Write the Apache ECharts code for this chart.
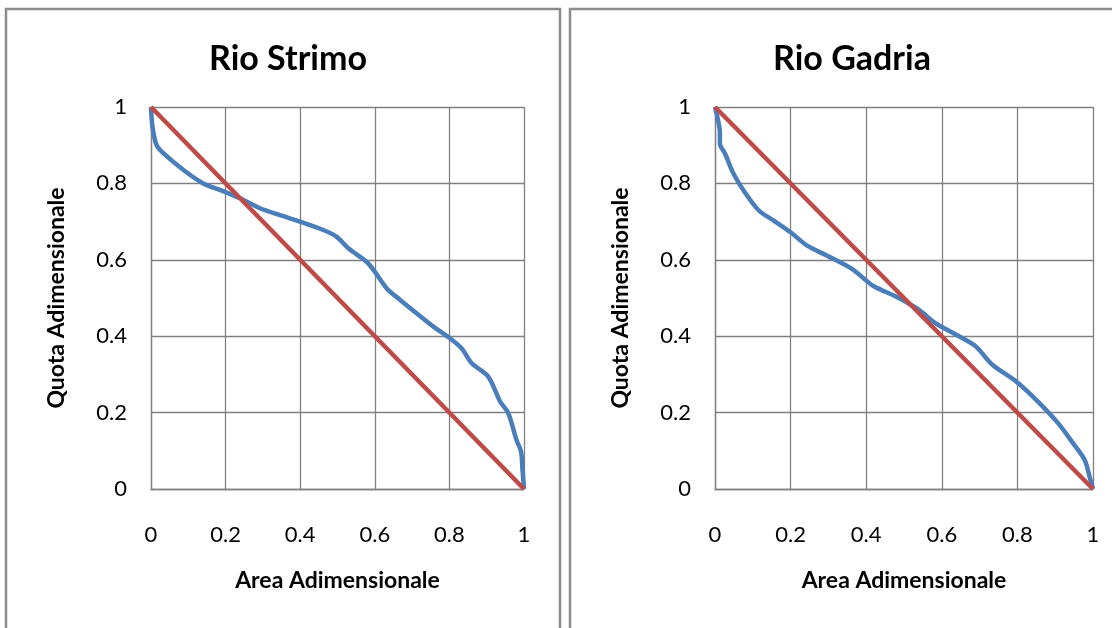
<!DOCTYPE html>
<html>
<head>
<meta charset="utf-8">
<script src="https://cdn.jsdelivr.net/npm/echarts@6/dist/echarts.min.js"></script>
<style>
  html, body { margin: 0; padding: 0; background: #fff; }
  #chart { width: 1112px; height: 628px; }
</style>
</head>
<body>
<div id="chart"></div>
<script>
// curve ipsografica adimensionale
const titles = ['Rio Strimo', 'Rio Gadria']
const xName = 'Area Adimensionale'
const yName = 'Quota Adimensionale'
const ticks = [0, 0.2, 0.4, 0.6, 0.8, 1]

const strimo = [
  [0, 1], [0.004, 0.948], [0.015, 0.90], [0.033, 0.879], [0.087, 0.835],
  [0.14, 0.80], [0.198, 0.778], [0.239, 0.761], [0.292, 0.735], [0.346, 0.717],
  [0.399, 0.70], [0.462, 0.678], [0.498, 0.66], [0.529, 0.63], [0.578, 0.595],
  [0.60, 0.569], [0.632, 0.525], [0.668, 0.495], [0.712, 0.46], [0.757, 0.425],
  [0.802, 0.394], [0.833, 0.368], [0.86, 0.329], [0.904, 0.294], [0.936, 0.229],
  [0.958, 0.198], [0.98, 0.128], [0.992, 0.098], [0.996, 0.05], [1, 0]
]
const gadria = [
  [0, 1], [0.009, 0.961], [0.013, 0.934], [0.013, 0.904], [0.027, 0.877],
  [0.049, 0.825], [0.076, 0.781], [0.116, 0.729], [0.156, 0.702], [0.20, 0.672],
  [0.244, 0.637], [0.298, 0.61], [0.364, 0.575], [0.418, 0.532], [0.476, 0.505],
  [0.538, 0.47], [0.582, 0.435], [0.636, 0.405], [0.689, 0.374], [0.733, 0.326],
  [0.796, 0.282], [0.849, 0.234], [0.907, 0.173], [0.947, 0.12], [0.978, 0.076],
  [0.991, 0.032], [1, 0]
]
const diagonal = [[0, 1], [1, 0]]

const FONT = 'Lato, "Open Sans", sans-serif'
const GRID_GRAY = '#808080'

const grids = [
  { left: 151, top: 107, width: 373, height: 382 },
  { left: 715, top: 107, width: 378, height: 382 }
]
const panels = [{ x: 6, w: 554, cx: 283 }, { x: 570, w: 560, cx: 847 }]

function axisBase(i) {
  return {
    type: 'value', min: 0, max: 1, interval: 0.2, gridIndex: i,
    nameLocation: 'middle',
    nameTextStyle: { fontFamily: FONT, fontWeight: 'bold', fontSize: 23, color: '#000' },
    axisLine: { show: true, lineStyle: { color: GRID_GRAY, width: 1.3 } },
    axisTick: { show: false },
    splitLine: { show: true, lineStyle: { color: GRID_GRAY, width: 1.3 } },
    axisLabel: {
      fontFamily: FONT, fontSize: 22, color: '#000',
      formatter: v => ticks.includes(+v.toFixed(1)) ? String(+v.toFixed(1)) : ''
    }
  }
}

const chart = echarts.init(document.getElementById('chart'), null, { renderer: 'canvas' })

chart.setOption({
  animation: false,
  backgroundColor: '#fff',
  title: titles.map((t, i) => ({
    text: t, left: panels[i].cx, top: 37, textAlign: 'center',
    textStyle: { fontFamily: FONT, fontWeight: 'bold', fontSize: 34, color: '#000' }
  })),
  graphic: panels.map(p => ({
    type: 'rect', silent: true, z: -1,
    shape: { x: p.x, y: 9, width: p.w, height: 640 },
    style: { fill: 'none', stroke: '#8c8c8c', lineWidth: 2.5 }
  })),
  grid: grids,
  xAxis: [0, 1].map(i => Object.assign(axisBase(i), {
    name: xName, nameGap: 80,
    axisLabel: Object.assign(axisBase(i).axisLabel, { margin: 35 })
  })),
  yAxis: [0, 1].map(i => Object.assign(axisBase(i), {
    name: yName, nameGap: 83,
    axisLabel: Object.assign(axisBase(i).axisLabel, { margin: 24 })
  })),
  series: [
    { data: strimo, xAxisIndex: 0, yAxisIndex: 0, color: '#4A7EBB' },
    { data: diagonal, xAxisIndex: 0, yAxisIndex: 0, color: '#BE4B48' },
    { data: gadria, xAxisIndex: 1, yAxisIndex: 1, color: '#4A7EBB' },
    { data: diagonal, xAxisIndex: 1, yAxisIndex: 1, color: '#BE4B48' }
  ].map(s => ({
    type: 'line', showSymbol: false, smooth: s.data.length > 2 ? 0.3 : false,
    xAxisIndex: s.xAxisIndex, yAxisIndex: s.yAxisIndex, data: s.data,
    lineStyle: { color: s.color, width: 4.5 }, itemStyle: { color: s.color }
  }))
})
</script>
</body>
</html>
